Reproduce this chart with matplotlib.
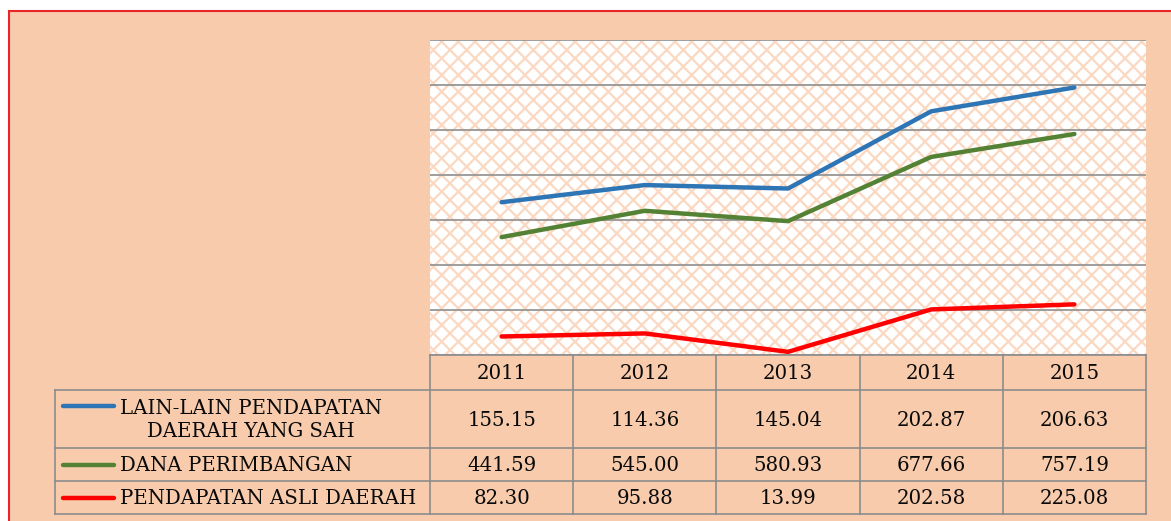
import matplotlib
matplotlib.use("Agg")
import matplotlib.pyplot as plt
from matplotlib.patches import Rectangle
from matplotlib.lines import Line2D

years = ["2011", "2012", "2013", "2014", "2015"]
lain_lain = [155.15, 114.36, 145.04, 202.87, 206.63]
dana_perimbangan = [441.59, 545.00, 580.93, 677.66, 757.19]
pad = [82.30, 95.88, 13.99, 202.58, 225.08]
labels = ["LAIN-LAIN PENDAPATAN\nDAERAH YANG SAH", "DANA PERIMBANGAN", "PENDAPATAN ASLI DAERAH"]
colors = ["#2E75B6", "#548235", "#FF0000"]

# stacked lines
s_red = pad
s_green = [a + b for a, b in zip(pad, dana_perimbangan)]
s_blue = [a + b for a, b in zip(s_green, lain_lain)]

W, H = 1171, 521
BG = "#F7CBAC"
fig = plt.figure(figsize=(W / 100, H / 100), dpi=100)
fig.patch.set_facecolor("white")
plt.rcParams["font.family"] = ["DejaVu Serif"]
plt.rcParams["hatch.linewidth"] = 1.6

# background with red border
bg = fig.add_axes([0, 0, 1, 1])
bg.set_xlim(0, W)
bg.set_ylim(H, 0)
bg.axis("off")
bg.add_patch(Rectangle((9, 11), W, H, facecolor=BG, edgecolor="#E8262A", linewidth=1.5))

# plot area
x0, x1, yt, yb = 430, 1146, 40, 355
ax = fig.add_axes([x0 / W, (H - yb) / H, (x1 - x0) / W, (yb - yt) / H])
ax.set_facecolor("white")
ax.add_patch(Rectangle((0, 0), 1, 1, transform=ax.transAxes, facecolor="white",
                       edgecolor="#FAD8C2", hatch="xx", linewidth=0, zorder=0))
xs = list(range(len(years)))
ax.set_xlim(-0.5, len(years) - 0.5)
ax.set_ylim(0, 1400)
ax.set_yticks(range(0, 1401, 200))
ax.yaxis.grid(True, color="#969696", linewidth=1.3, zorder=1)
ax.set_xticks([])
ax.tick_params(left=False, labelleft=False)
for s in ax.spines.values():
    s.set_visible(False)
ax.plot(xs, s_blue, color=colors[0], linewidth=3.2, solid_capstyle="round", zorder=3)
ax.plot(xs, s_green, color=colors[1], linewidth=3.2, solid_capstyle="round", zorder=3)
ax.plot(xs, s_red, color=colors[2], linewidth=3.2, solid_capstyle="round", zorder=3)

# data table
tb = fig.add_axes([0, 0, 1, 1])
tb.set_xlim(0, W)
tb.set_ylim(H, 0)
tb.axis("off")
gc = "#8C8C8C"
lw = 1.2
col_edges = [x0 + i * (x1 - x0) / len(years) for i in range(len(years) + 1)]
row_edges = [355, 390, 448, 481, 514]
left = 55
tb.add_line(Line2D([x0, x1], [row_edges[0]] * 2, color=gc, lw=lw))
for r in row_edges[1:]:
    tb.add_line(Line2D([left, x1], [r, r], color=gc, lw=lw))
tb.add_line(Line2D([left, left], [row_edges[1], row_edges[-1]], color=gc, lw=lw))
for c in col_edges:
    tb.add_line(Line2D([c, c], [row_edges[0], row_edges[-1]], color=gc, lw=lw))

fs = 14.2
tc = "#0A0A0A"
for i, y in enumerate(years):
    cx = (col_edges[i] + col_edges[i + 1]) / 2
    tb.text(cx, (row_edges[0] + row_edges[1]) / 2 + 1, y, ha="center", va="center", fontsize=fs, color=tc)

series = [lain_lain, dana_perimbangan, pad]
for r, (vals, lab, col) in enumerate(zip(series, labels, colors)):
    ytop, ybot = row_edges[r + 1], row_edges[r + 2]
    cy = (ytop + ybot) / 2
    for i, v in enumerate(vals):
        cx = (col_edges[i] + col_edges[i + 1]) / 2
        tb.text(cx, cy + 1, f"{v:.2f}", ha="center", va="center", fontsize=fs, color=tc)
    if r == 0:
        ky = ytop + 16
        tb.text(120, cy + 1, lab, ha="left", va="center", multialignment="center",
                fontsize=fs, color=tc, linespacing=1.3)
    else:
        ky = cy
        tb.text(120, cy + 1, lab, ha="left", va="center", fontsize=fs, color=tc)
    tb.add_line(Line2D([63, 114], [ky, ky], color=col, lw=3.2, solid_capstyle="round"))

fig.savefig("out.png", dpi=100, facecolor=fig.get_facecolor())
